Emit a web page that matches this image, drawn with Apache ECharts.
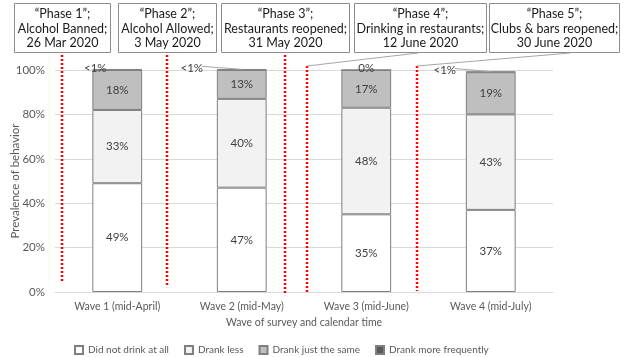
<!DOCTYPE html>
<html>
<head>
<meta charset="utf-8">
<script src="https://cdn.jsdelivr.net/npm/echarts@6/dist/echarts.min.js"></script>
<style>
html,body{margin:0;padding:0;background:#fff;}
#chart{width:624px;height:357px;}
</style>
</head>
<body>
<div id="chart"></div>
<script>
// ---- data ----
var categories = ['Wave 1 (mid-April)', 'Wave 2 (mid-May)', 'Wave 3 (mid-June)', 'Wave 4 (mid-July)'];
var didNotDrink = [49, 47, 35, 37];
var drankLess = [33, 40, 48, 43];
var drankSame = [18, 13, 17, 19];
var drankMore = [0.3, 0.3, 0, 0.3];
var drankMoreLabels = ['<1%', '<1%', '0%', '<1%'];
var seriesNames = ['Did not drink at all', 'Drank less', 'Drank just the same', 'Drank more frequently'];
var yTicks = [0, 20, 40, 60, 80, 100];
var phaseTexts = [
  ['\u201cPhase 1\u201d;', 'Alcohol Banned;', '26 Mar 2020'],
  ['\u201cPhase 2\u201d;', 'Alcohol Allowed;', '3 May 2020'],
  ['\u201cPhase 3\u201d;', 'Restaurants reopened;', '31 May 2020'],
  ['\u201cPhase 4\u201d;', 'Drinking in restaurants;', '12 June 2020'],
  ['\u201cPhase 5\u201d;', 'Clubs & bars reopened;', '30 June 2020']
];

// ---- layout (annotation positions, pixels) ----
var boxes = [[14, 3, 96, 49], [118, 3, 98, 49], [221, 3, 128, 49], [354, 3, 132, 49], [489, 3, 130, 49]];
var redLines = [[62, 55, 283], [167, 55, 285], [285, 55, 294], [307, 66, 294], [417, 66, 291]];
var phaseLeaders = [[418, 53, 307, 66], [570, 53, 417, 66]];
var moreLabelShift = [[-22, 5], [-50, 5], [0, 5], [-46, 5]];
var moreLeaderFor = [1, 3];   // categories whose small label has a guide line

var FONT = 'Lato, "Liberation Sans", sans-serif';
var chart = echarts.init(document.getElementById('chart'), null, {renderer: 'canvas'});

var fills = ['#ffffff', '#f2f2f2', '#bfbfbf', '#595959'];
var valueSets = [didNotDrink, drankLess, drankSame, drankMore];

var series = valueSets.map(function (vals, si) {
  var s = {
    name: seriesNames[si],
    type: 'bar',
    stack: 'total',
    barWidth: '40%',
    clip: false,
    data: vals,
    itemStyle: {color: fills[si], borderColor: '#7f7f7f', borderWidth: 1},
    label: {
      show: true, position: 'inside', color: '#404040', fontSize: 11.5, fontFamily: FONT,
      formatter: function (p) { return p.value + '%'; }
    },
    emphasis: {disabled: true}
  };
  if (si === 3) {
    s.label = {
      show: true, position: 'top', distance: 0, color: '#404040', fontSize: 11.5, fontFamily: FONT,
      formatter: function (p) { return drankMoreLabels[p.dataIndex]; }
    };
    s.labelLayout = function (p) {
      var sh = moreLabelShift[p.dataIndex];
      return {dx: sh[0], dy: sh[1]};
    };
  }
  return s;
});

chart.setOption({
  animation: false,
  backgroundColor: '#fff',
  grid: {left: 55, right: 71, top: 70, bottom: 65, containLabel: false, outerBoundsMode: 'none'},
  legend: {
    left: 69, top: 340, itemWidth: 8, itemHeight: 8, itemGap: 15,
    icon: 'rect',
    textStyle: {color: '#595959', fontSize: 10, fontFamily: FONT},
    data: seriesNames
  },
  xAxis: {
    type: 'category', data: categories,
    name: 'Wave of survey and calendar time', nameLocation: 'middle', nameGap: 24,
    nameTextStyle: {color: '#595959', fontSize: 10.5, fontFamily: FONT},
    axisLine: {lineStyle: {color: '#d9d9d9'}},
    axisTick: {show: false},
    axisLabel: {color: '#595959', fontSize: 10.5, fontFamily: FONT, margin: 9}
  },
  yAxis: {
    type: 'value', min: 0, max: 100, interval: 20,
    name: 'Prevalence of behavior', nameLocation: 'middle', nameGap: 34, nameMoveOverlap: false,
    nameTextStyle: {color: '#595959', fontSize: 11.5, fontFamily: FONT},
    axisLine: {show: false}, axisTick: {show: false},
    splitLine: {lineStyle: {color: '#d9d9d9'}},
    axisLabel: {color: '#595959', fontSize: 11.5, fontFamily: FONT, margin: 10,
      formatter: function (v) { return yTicks.indexOf(v) >= 0 ? v + '%' : ''; }}
  },
  series: series
});

// ---- annotations ----
var graphics = [];
boxes.forEach(function (b, i) {
  graphics.push({
    type: 'rect', shape: {x: b[0] + 0.5, y: b[1] + 0.5, width: b[2], height: b[3]},
    style: {fill: '#fff', stroke: '#8c8c8c', lineWidth: 1}, z: 10
  });
  phaseTexts[i].forEach(function (t, j) {
    graphics.push({
      type: 'text', x: b[0] + b[2] / 2 + 0.5, y: 14 + j * 14.5, z: 11,
      style: {text: t, fill: '#1a1a1a', font: '12.5px ' + FONT, align: 'center', verticalAlign: 'middle'}
    });
  });
});
redLines.forEach(function (l) {
  graphics.push({
    type: 'line', shape: {x1: l[0], y1: l[1], x2: l[0], y2: l[2]}, z: 12,
    style: {stroke: '#ff0000', lineWidth: 2.5, lineDash: [2, 2]}
  });
});
phaseLeaders.forEach(function (l) {
  graphics.push({
    type: 'line', shape: {x1: l[0], y1: l[1], x2: l[2], y2: l[3]}, z: 12,
    style: {stroke: '#a6a6a6', lineWidth: 1}
  });
});
// guide lines from small labels to their bar tops, located through the axes
moreLeaderFor.forEach(function (ci) {
  var total = didNotDrink[ci] + drankLess[ci] + drankSame[ci] + drankMore[ci];
  var top = chart.convertToPixel({xAxisIndex: 0, yAxisIndex: 0}, [ci, total]);
  var sh = moreLabelShift[ci];
  graphics.push({
    type: 'line', z: 12,
    shape: {x1: top[0] + sh[0] + 10, y1: top[1] - 3, x2: top[0], y2: top[1]},
    style: {stroke: '#a6a6a6', lineWidth: 1}
  });
});
chart.setOption({graphic: graphics});
</script>
</body>
</html>
